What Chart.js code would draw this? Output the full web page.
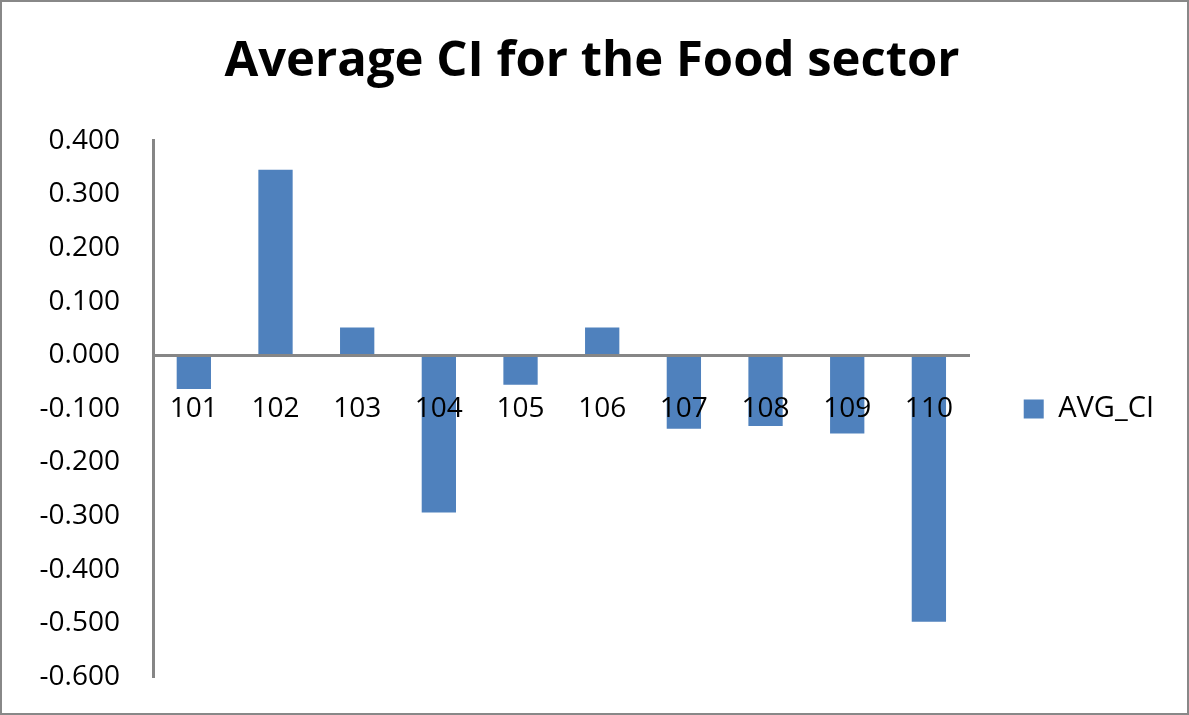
<!DOCTYPE html>
<html lang="en">
<head>
  <meta charset="UTF-8">
  <title>Average CI for the Food sector</title>
  <script src="https://cdn.jsdelivr.net/npm/chart.js"></script>
  <style>
    body { margin: 0; background: #fff; }
    .frame {
      width: 1189px;
      height: 715px;
      box-sizing: border-box;
      border: 2px solid #888;
    }
    canvas { display: block; }
  </style>
</head>
<body>

<div class="frame">
  <canvas id="ciChart" width="1185" height="711"></canvas>
</div>

<script>
  // sector codes and their average CI
  const sectors = ['101', '102', '103', '104', '105', '106', '107', '108', '109', '110'];
  const avgCI = [-0.063, 0.346, 0.052, -0.293, -0.055, 0.052, -0.137, -0.132, -0.146, -0.497];

  const yMin = -0.6;
  const yMax = 0.4;
  const yStep = 0.1;

  const axisGrey = '#868686';
  const barBlue = '#4F81BD';
  const labelFont = { family: '"Open Sans", sans-serif', size: 28 };

  const ctx = document.getElementById('ciChart');
  const chart = new Chart(ctx, {
    type: 'bar',
    data: {
      labels: sectors,
      datasets: [{
        label: 'AVG_CI',
        data: avgCI,
        backgroundColor: barBlue,
        borderWidth: 0,
        barPercentage: 1,
        categoryPercentage: 0.42
      }]
    },
    options: {
      responsive: false,
      animation: false,
      layout: {
        padding: { left: 18, right: 23, top: 0, bottom: 36 }
      },
      plugins: {
        title: {
          display: true,
          text: 'Average CI for the Food sector',
          color: '#000',
          font: { family: '"Open Sans", sans-serif', size: 49, weight: 'bold', lineHeight: 1.2 },
          padding: { top: 31, bottom: 49 }
        },
        legend: {
          position: 'right',
          // keep the legend beside the plot area so it centres on it
          fullSize: false,
          labels: {
            color: '#000',
            font: { family: '"Open Sans", sans-serif', size: 29 },
            boxWidth: 20,
            boxHeight: 19,
            padding: 54
          }
        },
        tooltip: { enabled: false }
      },
      scales: {
        x: {
          position: { y: 0 },
          grid: { display: false, drawTicks: false },
          // zero line and category labels are drawn over the bars
          border: { display: true, color: axisGrey, width: 3, z: 1 },
          ticks: { color: '#000', font: labelFont, padding: 37, maxRotation: 0, z: 1 },
          afterFit: scale => { scale.height = 0; }
        },
        y: {
          min: yMin,
          max: yMax,
          // invisible tick marks give the gap between labels and the axis line
          grid: { display: false, drawTicks: true, tickLength: 33 },
          border: { display: true, color: axisGrey, width: 3 },
          ticks: {
            stepSize: yStep,
            color: '#000',
            font: labelFont,
            padding: 0,
            callback: v => (Math.abs(v) < 1e-9 ? 0 : v).toFixed(3)
          },
          afterFit: scale => { scale.width = 133; }
        }
      }
    }
  });
</script>

</body>
</html>
